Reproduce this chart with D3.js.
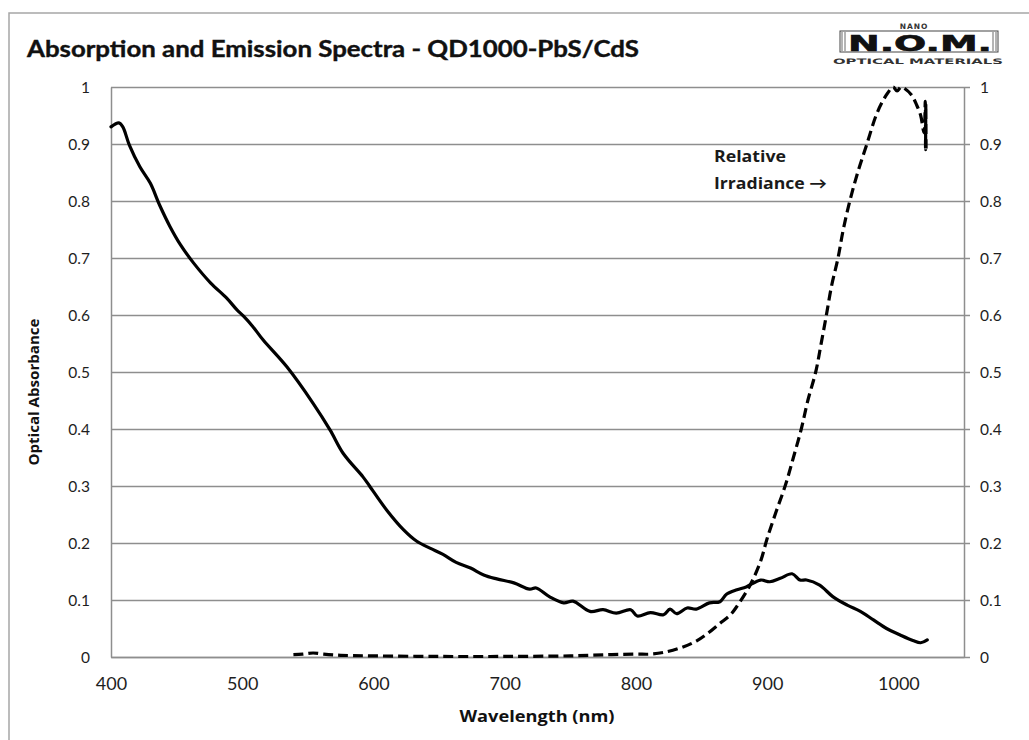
<!DOCTYPE html>
<html>
<head>
<meta charset="utf-8">
<script src="https://cdn.jsdelivr.net/npm/d3@7"></script>
<style>
  html, body { margin: 0; padding: 0; background: #fff; }
  svg { display: block; }
</style>
</head>
<body>
<svg id="chart" width="1029" height="740"></svg>
<script>
// Optical absorbance of the quantum dot solution (left axis)
const absWavelength = [400, 406, 409, 414, 422, 430, 437, 445, 453, 463, 476, 488, 496, 501, 508, 516, 534, 554, 567, 577, 592, 597, 610, 623, 633, 643, 653, 663, 674, 684, 694, 707, 719, 724, 734, 745, 752, 765, 775, 785, 796, 801, 811, 821, 826, 831, 839, 846, 856, 864, 869, 877, 884, 895, 902, 910, 919, 925, 930, 940, 950, 961, 971, 981, 991, 1001, 1011, 1017, 1022];
const absValue = [0.930, 0.937, 0.930, 0.898, 0.860, 0.831, 0.793, 0.755, 0.723, 0.691, 0.656, 0.630, 0.609, 0.598, 0.580, 0.556, 0.509, 0.445, 0.398, 0.357, 0.316, 0.300, 0.258, 0.223, 0.203, 0.191, 0.180, 0.166, 0.156, 0.144, 0.137, 0.130, 0.119, 0.121, 0.106, 0.095, 0.098, 0.080, 0.083, 0.077, 0.083, 0.072, 0.078, 0.074, 0.084, 0.076, 0.086, 0.084, 0.095, 0.097, 0.110, 0.118, 0.123, 0.135, 0.132, 0.138, 0.146, 0.135, 0.135, 0.126, 0.106, 0.091, 0.080, 0.065, 0.050, 0.039, 0.029, 0.025, 0.030];

// Relative emission irradiance (right axis)
const irrWavelength = [539, 546, 554, 562, 575, 600, 650, 700, 750, 778, 800, 811, 821, 834, 846, 855, 864, 872, 877, 887, 895, 900, 907, 914, 920, 926, 931, 937, 941, 945, 949, 954, 958, 963, 969, 976, 983, 988, 992, 996, 999, 1002, 1005, 1010, 1014, 1017, 1019.5, 1020.5, 1020.7, 1020.9, 1021.1];
const irrValue = [0.004, 0.005, 0.007, 0.005, 0.003, 0.002, 0.001, 0.001, 0.002, 0.004, 0.005, 0.005, 0.008, 0.016, 0.028, 0.042, 0.059, 0.074, 0.089, 0.126, 0.168, 0.208, 0.256, 0.302, 0.350, 0.400, 0.450, 0.500, 0.548, 0.598, 0.650, 0.700, 0.750, 0.800, 0.850, 0.900, 0.950, 0.975, 0.990, 1.000, 0.993, 1.000, 0.997, 0.986, 0.968, 0.950, 0.920, 0.975, 0.890, 0.970, 0.892];

const xTicks = [400, 500, 600, 700, 800, 900, 1000];
const yTicks = [0, 0.1, 0.2, 0.3, 0.4, 0.5, 0.6, 0.7, 0.8, 0.9, 1];

const titleText = "Absorption and Emission Spectra - QD1000-PbS/CdS";
const xTitle = "Wavelength (nm)";
const yTitle = "Optical Absorbance";
const noteLines = ["Relative", "Irradiance \u2192"];

const svg = d3.select("#chart");
const plot = { left: 111, right: 964, top: 87, bottom: 657 };

const x = d3.scaleLinear().domain([400, 1050]).range([plot.left, plot.right]);
const yLeft = d3.scaleLinear().domain([0, 1]).range([plot.bottom, plot.top]);
const yRight = d3.scaleLinear().domain([0, 1]).range([plot.bottom, plot.top]);

const FONT = "Lato, 'Open Sans', sans-serif";
const LABEL_FONT = "'Open Sans', Lato, sans-serif";
const gridColor = "#8e8e8e";
const textColor = "#1e1e1e";

// outer frame
svg.append("rect")
  .attr("x", 9).attr("y", 13).attr("width", 1040).attr("height", 760)
  .attr("fill", "none").attr("stroke", "#a6a6a6").attr("stroke-width", 1.5);

// title
svg.append("text")
  .attr("x", 27).attr("y", 57)
  .attr("font-family", FONT).attr("font-weight", 700).attr("font-size", 23)
  .attr("fill", "#111").attr("stroke", "#111").attr("stroke-width", 0.4)
  .attr("textLength", 612).attr("lengthAdjust", "spacingAndGlyphs")
  .text(titleText);

// horizontal gridlines (with short ticks beyond the right axis)
svg.append("g").selectAll("line").data(yTicks).join("line")
  .attr("x1", plot.left).attr("x2", plot.right + 6)
  .attr("y1", d => Math.round(yLeft(d)) + 0.5).attr("y2", d => Math.round(yLeft(d)) + 0.5)
  .attr("stroke", gridColor).attr("stroke-width", 1.3);

const tickFmt = d => d === 0 || d === 1 ? String(d) : d3.format(".1f")(d);

const leftAxis = d3.axisLeft(yLeft).tickValues(yTicks).tickSize(0).tickPadding(21).tickFormat(tickFmt);
const gL = svg.append("g").attr("transform", `translate(${plot.left},0)`).call(leftAxis);
gL.select(".domain").attr("stroke", gridColor).attr("stroke-width", 1.5);
gL.selectAll("text").attr("font-family", FONT).attr("font-size", 15.5).attr("fill", textColor).attr("dy", "0.35em");

const rightAxis = d3.axisRight(yRight).tickValues(yTicks).tickSize(0).tickPadding(16).tickFormat(tickFmt);
const gR = svg.append("g").attr("transform", `translate(${plot.right},0)`).call(rightAxis);
gR.select(".domain").attr("stroke", gridColor).attr("stroke-width", 1.5);
gR.selectAll("text").attr("font-family", FONT).attr("font-size", 15.5).attr("fill", textColor).attr("dy", "0.35em");

const bottomAxis = d3.axisBottom(x).tickValues(xTicks).tickSize(0).tickPadding(20).tickFormat(d3.format("d"));
const gB = svg.append("g").attr("transform", `translate(0,${plot.bottom})`).call(bottomAxis);
gB.select(".domain").attr("stroke", gridColor).attr("stroke-width", 1.5);
gB.selectAll("text").attr("font-family", FONT).attr("font-size", 18).attr("fill", textColor);

// axis titles
svg.append("text")
  .attr("transform", `translate(39,${(318 + 466) / 2}) rotate(-90)`)
  .attr("text-anchor", "middle")
  .attr("font-family", LABEL_FONT).attr("font-weight", 700).attr("font-size", 15)
  .attr("textLength", 147).attr("lengthAdjust", "spacingAndGlyphs")
  .attr("fill", "#111").text(yTitle);

svg.append("text")
  .attr("x", 537).attr("y", 722).attr("text-anchor", "middle")
  .attr("font-family", LABEL_FONT).attr("font-weight", 700).attr("font-size", 16)
  .attr("textLength", 155).attr("lengthAdjust", "spacingAndGlyphs")
  .attr("fill", "#111").text(xTitle);

// data lines
const absLine = d3.line()
  .x((d, i) => x(absWavelength[i]))
  .y(d => yLeft(d))
  .curve(d3.curveCatmullRom.alpha(0.5));
svg.append("path")
  .attr("d", absLine(absValue))
  .attr("fill", "none").attr("stroke", "#000").attr("stroke-width", 3.2)
  .attr("stroke-linejoin", "round").attr("stroke-linecap", "round");

const irrLine = d3.line()
  .x((d, i) => x(irrWavelength[i]))
  .y(d => yRight(d))
  .curve(d3.curveCatmullRom.alpha(0.5));
svg.append("path")
  .attr("d", irrLine(irrValue))
  .attr("fill", "none").attr("stroke", "#000").attr("stroke-width", 3.2)
  .attr("stroke-dasharray", "10,5");

// annotation
const noteWidths = [72, 113];
const note = svg.append("text")
  .attr("font-family", LABEL_FONT).attr("font-weight", 700).attr("font-size", 16)
  .attr("fill", "#1a1a1a");
note.selectAll("tspan").data(noteLines).join("tspan")
  .attr("x", 714).attr("y", (d, i) => 162 + i * 27)
  .attr("textLength", (d, i) => noteWidths[i]).attr("lengthAdjust", "spacingAndGlyphs")
  .text(d => d);

// brand mark
const logo = svg.append("g");
logo.append("text")
  .attr("x", 914).attr("y", 28.5).attr("text-anchor", "middle")
  .attr("font-family", "'DejaVu Sans', sans-serif").attr("font-weight", 700).attr("font-size", 7.5)
  .attr("letter-spacing", 1).attr("fill", "#333").text("NANO");
logo.append("rect")
  .attr("x", 840).attr("y", 31).attr("width", 158).attr("height", 21)
  .attr("fill", "none").attr("stroke", "#444").attr("stroke-width", 1);
[[842, 845], [993, 996]].forEach(pair => pair.forEach(px =>
  logo.append("line").attr("x1", px).attr("x2", px).attr("y1", 32).attr("y2", 51)
    .attr("stroke", "#444").attr("stroke-width", 0.8)));
logo.append("text")
  .attr("x", 920).attr("y", 50.5).attr("text-anchor", "middle")
  .attr("font-family", "'DejaVu Sans', sans-serif").attr("font-weight", 700).attr("font-size", 21)
  .attr("textLength", 144).attr("lengthAdjust", "spacingAndGlyphs")
  .attr("fill", "#111").attr("stroke", "#111").attr("stroke-width", 0.6)
  .text("N.O.M.");
logo.append("text")
  .attr("x", 918).attr("y", 63.5).attr("text-anchor", "middle")
  .attr("font-family", "'DejaVu Sans', sans-serif").attr("font-weight", 700).attr("font-size", 7.5)
  .attr("textLength", 170).attr("lengthAdjust", "spacingAndGlyphs")
  .attr("fill", "#333").text("OPTICAL MATERIALS");
</script>
</body>
</html>
